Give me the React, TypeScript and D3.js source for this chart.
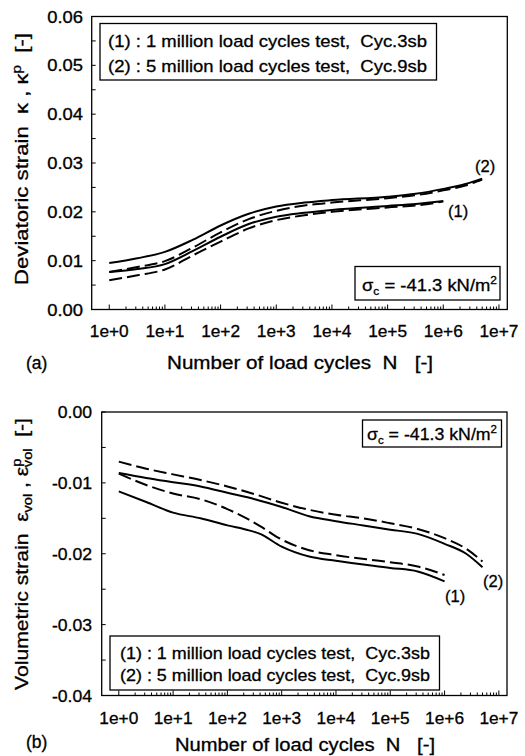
import React from "react";
import * as d3 from "d3";

// ---------- data ----------
const xTickLabels = ["1e+0", "1e+1", "1e+2", "1e+3", "1e+4", "1e+5", "1e+6", "1e+7"];
const xTickValues = [1, 10, 100, 1000, 1e4, 1e5, 1e6, 1e7];

// (a) deviatoric strain
const topYTicks = [0, 0.01, 0.02, 0.03, 0.04, 0.05, 0.06];
const topYTickLabels = ["0.00", "0.01", "0.02", "0.03", "0.04", "0.05", "0.06"];
const topN2 = [1, 3.2, 10, 32, 100, 320, 1000, 3200, 1e4, 1e5, 3.2e5, 1e6, 2.5e6, 5e6];
const topKappa2 = [0.0095, 0.0105, 0.0118, 0.0143, 0.0172, 0.0196, 0.0211, 0.0219, 0.0224, 0.0231, 0.0237, 0.0247, 0.0257, 0.0268];
const topKappaP2 = [0.0077, 0.0087, 0.0099, 0.0127, 0.0158, 0.0185, 0.0202, 0.0213, 0.0219, 0.0228, 0.0234, 0.0244, 0.0254, 0.0266];
const topN1 = [1, 3.2, 10, 32, 100, 320, 1000, 3200, 1e4, 1e5, 3.2e5, 1e6];
const topKappa1 = [0.0077, 0.0083, 0.0093, 0.012, 0.0149, 0.0175, 0.019, 0.0198, 0.0204, 0.0212, 0.0216, 0.0222];
const topKappaP1 = [0.006, 0.007, 0.0082, 0.0111, 0.0139, 0.0166, 0.0183, 0.0193, 0.02, 0.0209, 0.0213, 0.0221];

// (b) volumetric strain
const botYTicks = [0, -0.01, -0.02, -0.03, -0.04];
const botYTickLabels = ["0.00", "-0.01", "-0.02", "-0.03", "-0.04"];
const botN2 = [1, 3.2, 10, 32, 100, 320, 1000, 3200, 1e4, 3.2e4, 1e5, 3.2e5, 1e6, 2.5e6, 5e6];
const botEpsP2 = [-0.007, -0.008, -0.0088, -0.0096, -0.0105, -0.0116, -0.0128, -0.0138, -0.0145, -0.015, -0.0157, -0.0165, -0.0178, -0.0193, -0.0211];
const botEps2 = [-0.0086, -0.0093, -0.0099, -0.0105, -0.0114, -0.0123, -0.0134, -0.0147, -0.0154, -0.016, -0.0166, -0.0172, -0.0186, -0.02, -0.0219];
const botN1 = [1, 3.2, 10, 32, 100, 250, 400, 1000, 3200, 1e4, 1e5, 3.2e5, 1e6];
const botEpsP1 = [-0.0087, -0.0103, -0.0115, -0.0123, -0.0137, -0.0152, -0.0161, -0.0180, -0.0195, -0.0202, -0.0212, -0.0218, -0.023];
const botEps1 = [-0.0112, -0.0127, -0.0142, -0.015, -0.016, -0.0167, -0.0172, -0.0190, -0.0204, -0.021, -0.022, -0.0225, -0.0239];

const legendLines = [
  "(1) : 1 million load cycles test,  Cyc.3sb",
  "(2) : 5 million load cycles test,  Cyc.9sb",
];
const xTitle = "Number of load cycles  N   [-]";

const FONT = "'Liberation Sans', Arial, Helvetica, sans-serif";

function T({ x, y, sx = 1, anchor = "start", size = 15, rotate = 0, len, children }: any) {
  return (
    <text
      transform={`translate(${x},${y}) rotate(${rotate}) scale(${sx},1)`}
      textAnchor={anchor}
      fontSize={size}
      fontFamily={FONT}
      fill="#000"
      stroke="#000"
      strokeWidth={0.3}
      textLength={len}
      lengthAdjust={len ? "spacingAndGlyphs" : undefined}
      style={{ whiteSpace: "pre" }}
    >
      {children}
    </text>
  );
}

const xDomain = [Math.pow(10, -0.315), Math.pow(10, 7.15)];

function Panel({ frame, yDomain, series, minorStep }: any) {
  const { left, right, top, bottom } = frame;
  const x = d3.scaleLog().domain(xDomain).range([left, right]);
  const y = d3.scaleLinear().domain(yDomain).range([bottom, top]);
  const ticks: any[] = [];
  for (let k = 0; k <= 7; k++) {
    for (let m = 1; m <= 9; m++) {
      const v = m * Math.pow(10, k);
      if (v < xDomain[0] || v > xDomain[1]) continue;
      ticks.push({ v, major: m === 1 });
    }
  }
  const yMinor: number[] = [];
  const [y0, y1] = [Math.min(...yDomain), Math.max(...yDomain)];
  for (let v = y0; v <= y1 + 1e-9; v += minorStep) yMinor.push(v);
  return (
    <g>
      <rect x={left} y={top} width={right - left} height={bottom - top} fill="none" stroke="#000" strokeWidth={1.3} />
      {ticks.map((t, i) => (
        <line key={i} x1={x(t.v)} x2={x(t.v)} y1={bottom} y2={bottom - (t.major ? 5 : 3)} stroke="#000" strokeWidth={1} />
      ))}
      {yMinor.map((v, i) => (
        <line key={i} x1={left} x2={left + 4} y1={y(v)} y2={y(v)} stroke="#000" strokeWidth={1} />
      ))}
      {series.map((s: any, i: number) => {
        const line = d3
          .line<number>()
          .x((_, j) => x(s.n[j]))
          .y((d) => y(d))
          .curve(d3.curveMonotoneX);
        return (
          <path
            key={i}
            d={line(s.v) || ""}
            fill="none"
            stroke="#000"
            strokeWidth={2}
            strokeDasharray={s.dashed ? "13,5" : undefined}
          />
        );
      })}
    </g>
  );
}

export default function App() {
  const topFrame = { left: 91.7, right: 507.3, top: 16.5, bottom: 309.5 };
  const botFrame = { left: 101.7, right: 507, top: 412, bottom: 695.5 };
  const xTop = d3.scaleLog().domain(xDomain).range([topFrame.left, topFrame.right]);
  const yTop = d3.scaleLinear().domain([0, 0.06]).range([topFrame.bottom, topFrame.top]);
  const xBot = d3.scaleLog().domain(xDomain).range([botFrame.left, botFrame.right]);
  const yBot = d3.scaleLinear().domain([-0.04, 0]).range([botFrame.bottom, botFrame.top]);

  return (
    <svg
      width={525}
      height={756}
      style={{ position: "absolute", left: 0, top: 0, background: "#fff" }}
    >
      <rect x={0} y={0} width={525} height={756} fill="#fff" />
      {/* ---------- (a) ---------- */}
      <Panel
        frame={topFrame}
        yDomain={[0, 0.06]}
        minorStep={0.005}
        series={[
          { n: topN2, v: topKappa2, dashed: false },
          { n: topN2, v: topKappaP2, dashed: true },
          { n: topN1, v: topKappa1, dashed: false },
          { n: topN1, v: topKappaP1, dashed: true },
        ]}
      />
      {topYTicks.map((v, i) => (
        <T key={i} x={83} y={yTop(v) + 6} anchor="end" sx={1.15} size={16}>
          {topYTickLabels[i]}
        </T>
      ))}
      {xTickValues.map((v, i) => (
        <T key={i} x={xTop(v)} y={336.5} anchor="middle" sx={1.08} size={16}>
          {xTickLabels[i]}
        </T>
      ))}
      <rect x={100} y={23.5} width={336.5} height={56.5} fill="#fff" stroke="#000" strokeWidth={1.3} />
      <T x={108} y={46.5} size={17} len={319}>{legendLines[0]}</T>
      <T x={108} y={71.5} size={17} len={319}>{legendLines[1]}</T>
      <rect x={355} y={266.5} width={145} height={33.5} fill="#fff" stroke="#000" strokeWidth={1.3} />
      <T x={362} y={290.5} size={17} len={135}>
        σ<tspan fontSize={11} dy={4}>c</tspan>
        <tspan dy={-4}> = -41.3 kN/m</tspan>
        <tspan fontSize={11} dy={-7}>2</tspan>
      </T>
      <T x={475} y={171.5} size={16.5}>(2)</T>
      <T x={448} y={216.5} size={16.5}>(1)</T>
      <T x={28} y={159} anchor="middle" rotate={-90} size={17.5} len={252}>
        Deviatoric strain  κ , κ<tspan fontSize={12} dy={-7}>p</tspan>
        <tspan dy={7}>  [-]</tspan>
      </T>
      <T x={300} y={368.5} anchor="middle" size={17.5} len={266}>{xTitle}</T>
      <T x={26} y={368.5} size={17.5}>(a)</T>

      {/* ---------- (b) ---------- */}
      <Panel
        frame={botFrame}
        yDomain={[-0.04, 0]}
        minorStep={0.005}
        series={[
          { n: botN2, v: botEpsP2, dashed: true },
          { n: botN2, v: botEps2, dashed: false },
          { n: botN1, v: botEpsP1, dashed: true },
          { n: botN1, v: botEps1, dashed: false },
        ]}
      />
      {botYTicks.map((v, i) => (
        <T key={i} x={92} y={yBot(v) + 6} anchor="end" sx={1.1} size={16}>
          {botYTickLabels[i]}
        </T>
      ))}
      {xTickValues.map((v, i) => (
        <T key={i} x={xBot(v)} y={724} anchor="middle" sx={1.08} size={16}>
          {xTickLabels[i]}
        </T>
      ))}
      <rect x={110} y={636} width={329.5} height={54} fill="#fff" stroke="#000" strokeWidth={1.3} />
      <T x={120} y={659} size={17} len={310}>{legendLines[0]}</T>
      <T x={120} y={681} size={17} len={310}>{legendLines[1]}</T>
      <rect x={362.5} y={420} width={139} height={27} fill="#fff" stroke="#000" strokeWidth={1.3} />
      <T x={367} y={439.5} size={17} len={130}>
        σ<tspan fontSize={11} dy={4}>c</tspan>
        <tspan dy={-4}> = -41.3 kN/m</tspan>
        <tspan fontSize={11} dy={-7}>2</tspan>
      </T>
      <T x={483} y={587} size={16.5}>(2)</T>
      <T x={445} y={602} size={16.5}>(1)</T>
      <T x={28} y={554} anchor="middle" rotate={-90} size={17.5} len={272}>
        Volumetric strain  ε<tspan fontSize={12} dy={4}>vol</tspan>
        <tspan dy={-4}> , ε</tspan>
        <tspan fontSize={12} dy={-7}>p</tspan>
        <tspan fontSize={12} dy={11} dx={-7}>vol</tspan>
        <tspan dy={-4}>  [-]</tspan>
      </T>
      <T x={305} y={751} anchor="middle" size={17.5} len={260}>{xTitle}</T>
      <T x={26} y={748} size={17.5}>(b)</T>
    </svg>
  );
}
